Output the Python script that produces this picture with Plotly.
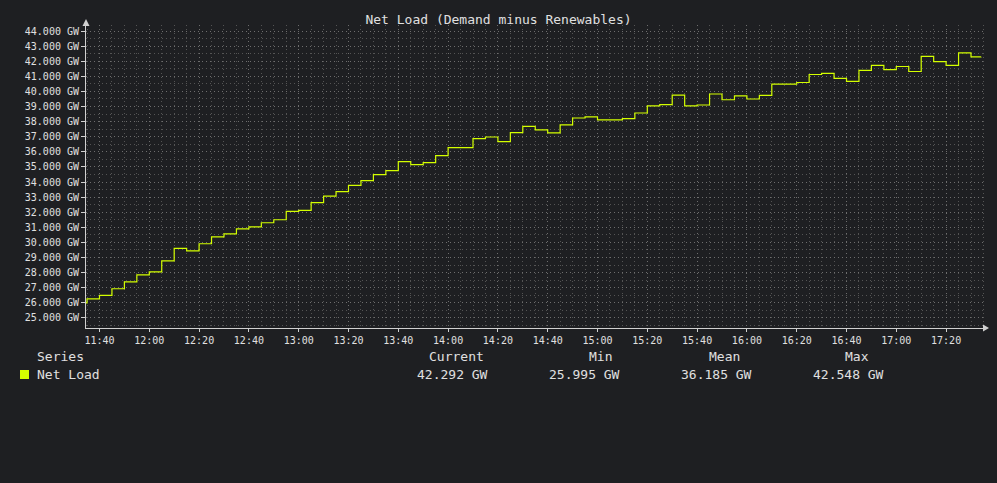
import pandas as pd
import plotly.graph_objects as go

# ---------------- data ----------------
title_text = "Net Load (Demand minus Renewables)"
series_name = "Net Load"
unit = "GW"

# first reading, then 5-minute blocks starting 11:35, then the last reading
first_time = "2024-01-01 11:34:35"
block_start = "2024-01-01 11:35"
last_time = "2024-01-01 17:34"
first_value = 25.995
block_values = [
    26.26, 26.49, 26.93, 27.39, 27.85, 28.05, 28.78, 29.60, 29.44, 29.91,
    30.37, 30.57, 30.90, 31.03, 31.30, 31.50, 32.05, 32.12, 32.64, 33.06,
    33.36, 33.78, 34.09, 34.49, 34.75, 35.35, 35.15, 35.28, 35.75, 36.28,
    36.28, 36.87, 36.98, 36.68, 37.27, 37.69, 37.45, 37.25, 37.78, 38.24,
    38.31, 38.11, 38.11, 38.20, 38.57, 39.04, 39.12, 39.76, 39.04, 39.10,
    39.83, 39.45, 39.70, 39.50, 39.74, 40.48, 40.48, 40.59, 41.12, 41.19,
    40.86, 40.66, 41.39, 41.72, 41.45, 41.65, 41.32, 42.32, 41.98, 41.72,
    42.55, 42.29,
]
last_value = 42.292

stat_names = ["Current", "Min", "Mean", "Max"]
stat_values = [42.292, 25.995, 36.185, 42.548]

y_ticks = list(range(25, 45))

# ---------------- build ----------------
block_times = list(pd.date_range(block_start, periods=len(block_values), freq="5min"))
times = [pd.Timestamp(first_time)] + block_times + [pd.Timestamp(last_time)]
values = [first_value] + block_values + [last_value]

BG = "#1e1f22"
TXT = "#e0e0e0"
AX = "#d0d0d0"
LINE = "#d4ff00"
MONO = "DejaVu Sans Mono"
GRID_MAJ = "#6e6e6e"
GRID_MIN = "#545454"
DOTS = "1px,3px"

W, H = 997, 483
L, R, T, B = 86, 12, 25, 155
pw, ph = W - L - R, H - T - B


def px(x):
    return (x - L) / pw


def py(y):
    return (H - B - y) / ph


fig = go.Figure()
fig.add_trace(go.Scatter(
    x=times, y=values, mode="lines", line=dict(color=LINE, width=1.2, shape="hv"),
    name=series_name, showlegend=False, hoverinfo="x+y",
))

fig.update_layout(
    width=W, height=H,
    margin=dict(l=L, r=R, t=T, b=B),
    paper_bgcolor=BG, plot_bgcolor=BG,
    font=dict(family=MONO, color=TXT, size=10),
    title=dict(text=title_text, x=0.5, xref="container", xanchor="center",
               y=1 - 19 / H, yref="container", yanchor="middle",
               font=dict(family=MONO, size=13, color=TXT)),
    showlegend=False,
)

fig.update_xaxes(
    type="date",
    range=["2024-01-01 11:34:35", "2024-01-01 17:35:37"],
    tickformat="%H:%M", dtick=20 * 60 * 1000, tick0="2024-01-01 11:40",
    showline=True, linecolor=AX, linewidth=1,
    ticks="outside", ticklen=3, tickcolor=AX,
    tickfont=dict(family=MONO, size=10, color=TXT),
    showgrid=True, gridcolor=GRID_MAJ, griddash=DOTS, gridwidth=1,
    minor=dict(dtick=5 * 60 * 1000, tick0="2024-01-01 11:40", showgrid=True,
               gridcolor=GRID_MIN, griddash=DOTS, gridwidth=1),
    zeroline=False, fixedrange=True,
)
fig.update_yaxes(
    range=[24.33, 44.4],
    tickvals=y_ticks, ticktext=[f"{v:.3f} {unit}" for v in y_ticks],
    showline=True, linecolor=AX, linewidth=1,
    ticks="outside", ticklen=4, tickcolor=AX,
    tickfont=dict(family=MONO, size=10, color=TXT),
    showgrid=True, gridcolor=GRID_MAJ, griddash=DOTS, gridwidth=1,
    minor=dict(dtick=0.5, tick0=0, showgrid=True, gridcolor=GRID_MIN,
               griddash=DOTS, gridwidth=1),
    zeroline=False, fixedrange=True,
)

# axis arrows
fig.add_shape(type="path", xref="paper", yref="paper", xsizemode="pixel", ysizemode="pixel",
              xanchor=0, yanchor=1, path="M -3.5 -1 L 3.5 -1 L 0 6 Z",
              fillcolor=AX, line=dict(width=0), layer="above")
fig.add_shape(type="path", xref="paper", yref="paper", xsizemode="pixel", ysizemode="pixel",
              xanchor=px(983), yanchor=0, path="M 0 -3.5 L 0 3.5 L 6 0 Z",
              fillcolor=AX, line=dict(width=0), layer="above")
fig.add_shape(type="line", xref="paper", yref="paper", x0=1, x1=px(984), y0=0, y1=0,
              line=dict(color=AX, width=1))

# legend / stats block
fig.add_annotation(text="Series", x=px(35), y=py(356), xref="paper", yref="paper",
                   xanchor="left", yanchor="middle", showarrow=False,
                   font=dict(family=MONO, size=13, color=TXT))
fig.add_annotation(text=series_name, x=px(35), y=py(374), xref="paper", yref="paper",
                   xanchor="left", yanchor="middle", showarrow=False,
                   font=dict(family=MONO, size=13, color=TXT))
fig.add_shape(type="rect", xref="paper", yref="paper", x0=px(20), x1=px(29),
              y0=py(379), y1=py(370), fillcolor=LINE, line=dict(width=0))

header_x = [456, 600, 724, 857]
value_x = [452, 584, 716, 848]
for name, val, hx, vx in zip(stat_names, stat_values, header_x, value_x):
    fig.add_annotation(text=name, x=px(hx), y=py(356), xref="paper", yref="paper",
                       xanchor="center", yanchor="middle", showarrow=False,
                       font=dict(family=MONO, size=13, color=TXT))
    fig.add_annotation(text=f"{val:.3f} {unit}", x=px(vx), y=py(374), xref="paper", yref="paper",
                       xanchor="center", yanchor="middle", showarrow=False,
                       font=dict(family=MONO, size=13, color=TXT))

fig.write_html(
    "out.html",
    config={"displayModeBar": False},
    post_script="document.body.style.margin='0';document.body.style.background='" + BG + "';",
)
